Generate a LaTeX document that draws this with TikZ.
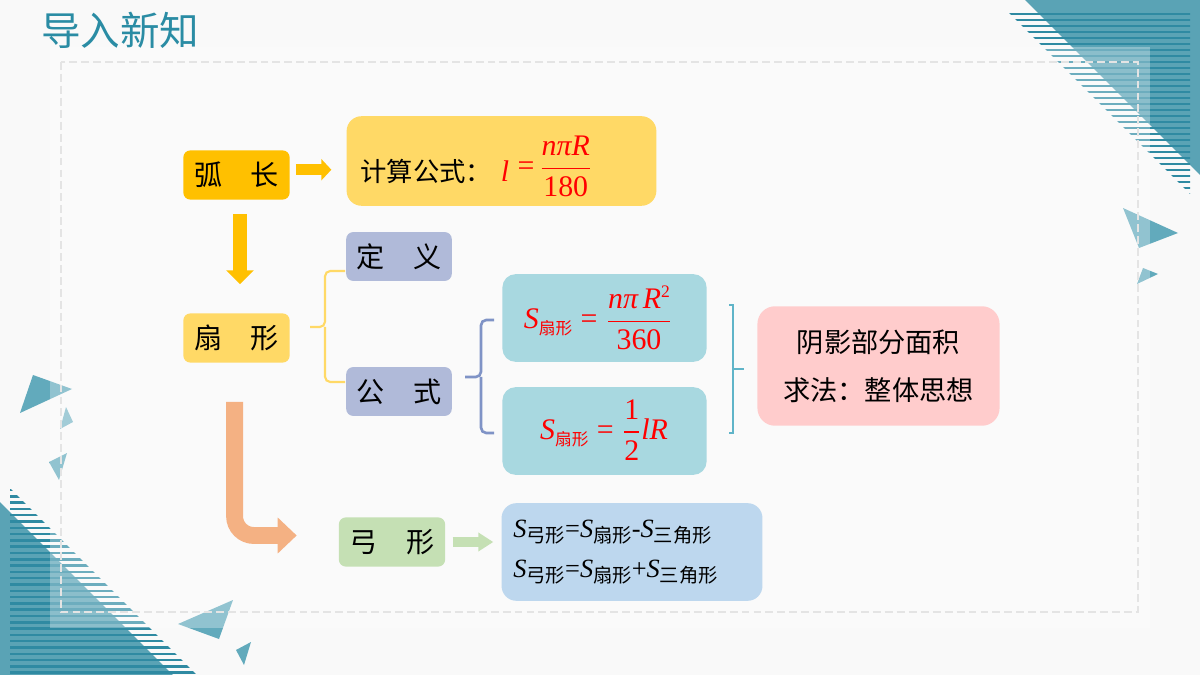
\documentclass[tikz,border=0pt]{standalone}
\usepackage{amsmath}
\usepackage{fontspec}
\setmainfont{Noto Sans CJK SC}
\newfontfamily\tms{Liberation Serif}
\usetikzlibrary{arrows.meta}
\definecolor{bgc}{HTML}{F9F9F9}
\definecolor{teala}{HTML}{5AA3B5}
\definecolor{tealb}{HTML}{2F8AA2}
\definecolor{tealc}{HTML}{62AABC}
\definecolor{titlec}{HTML}{2A8CA4}
\definecolor{gold}{HTML}{FFC000}
\definecolor{lgold}{HTML}{FFD966}
\definecolor{lav}{HTML}{B0BAD9}
\definecolor{lteal}{HTML}{A8D8E0}
\definecolor{pinka}{HTML}{FFCCCC}
\definecolor{lgreen}{HTML}{C5E0B4}
\definecolor{lblue}{HTML}{BDD7EE}
\definecolor{orng}{HTML}{F4B183}
\definecolor{bluebr}{HTML}{7F93C6}
\definecolor{tealbr}{HTML}{5FB4C8}
\definecolor{dashc}{HTML}{E4E4E4}
\definecolor{redf}{HTML}{FF0000}
\newcommand\tmi[1]{\mbox{\tms\itshape #1}}
\newcommand\tmr[1]{\mbox{\tms #1}}
\newcommand\subcjk[1]{\raisebox{-3.5pt}{\fontsize{9.5}{10}\selectfont #1}}
\newcommand\subgx[1]{\raisebox{-2.8pt}{\fontsize{11}{12}\selectfont #1}}
\begin{document}
\begin{tikzpicture}[x=0.02cm,y=-0.02cm,
  box/.style={inner sep=0pt, text=black},
  smallbox/.style={box, rounded corners=4pt, minimum width=60.5pt, minimum height=28pt, font=\fontsize{16}{19}\selectfont},
  fatarrow/.style={line width=#1},
  brc/.style={line width=1.2pt, rounded corners=3pt}
]
\useasboundingbox (0,0) rectangle (1200,675);
\fill[bgc] (0,0) rectangle (1200,675);
% top-right corner decoration
\fill[teala] (1025,0) -- (1200,0) -- (1200,175) -- cycle;
\begin{scope}
  \clip (1008,12) -- (1190,12) -- (1190,194) -- cycle;
  \foreach \i in {0,...,31} \draw[tealb, line width=1.4pt] (1000,14+6*\i) -- (1200,14+6*\i);
\end{scope}
% bottom-left corner decoration
\fill[teala] (0,502) -- (0,675) -- (173,675) -- cycle;
\begin{scope}
  \clip (10,488) -- (10,675) -- (197,675) -- cycle;
  \foreach \i in {0,...,31} \draw[tealb, line width=1.4pt] (0,490+6.3*\i) -- (210,490+6.3*\i);
\end{scope}
% small triangles
\fill[tealc] (1123,208) -- (1178,233) -- (1139,248) -- cycle;
\fill[tealc] (1143,268) -- (1158,274) -- (1137,284) -- cycle;
\fill[tealc] (33,375) -- (72,389) -- (20,413) -- cycle;
\fill[tealc!85] (66,407) -- (73,422) -- (60,429) -- cycle;
\fill[tealc] (49,462) -- (67,453) -- (59,480) -- cycle;
\fill[tealc] (233,600) -- (178,624) -- (219,639) -- cycle;
\fill[tealc] (251,642) -- (236,650) -- (244,665) -- cycle;
% translucent panel and dashed frame
\fill[white, opacity=0.3] (50,47) rectangle (1150,628);
\draw[dashc, line width=1.1pt, dash pattern=on 4.5pt off 2.3pt] (61,62) rectangle (1138,612);
% title
\node[anchor=west, inner sep=0pt, text=titlec, font=\fontsize{22.5}{26}\selectfont] (title) at (41,30) {导入新知};

% boxes
\node[smallbox, fill=gold] (hu) at (236.5,175) {弧　长};
\node[box, fill=lgold, rounded corners=8.5pt, minimum width=176.3pt, minimum height=51pt] (js) at (501.5,161) {};
\node[anchor=base west, inner sep=0pt, font=\fontsize{15}{18}\selectfont] (jst) at (360,182)
  {计算公式：\hspace{5pt}{\color{redf}\fontsize{17}{20}\selectfont $\tmi{l}\;\raisebox{3.5pt}{$\tmr{=}\,\genfrac{}{}{0.8pt}{0}{\tmi{nπR}}{\tmr{180}}$}$}};
\node[smallbox, fill=lgold] (shan) at (236.5,338) {扇　形};
\node[smallbox, fill=lav, minimum width=60.1pt, minimum height=27.8pt] (dy) at (399,256.5) {定　义};
\node[smallbox, fill=lav, minimum width=60.1pt, minimum height=27.8pt] (gs) at (399,391.5) {公　式};
\node[box, fill=lteal, rounded corners=7.5pt, minimum width=116.2pt, minimum height=49.9pt] (s1) at (604.5,318) {};
\node[box, fill=lteal, rounded corners=7.5pt, minimum width=116.2pt, minimum height=49.9pt] (s2) at (604.5,431) {};
\node[inner sep=0pt, text=redf, font=\fontsize{17}{20}\selectfont] (s1t) at (598,318)
  {$\tmi{S}\subcjk{扇形}\mathrel{\tmr{=}}\genfrac{}{}{0.8pt}{0}{\tmi{nπ\,R}\raisebox{6pt}{\mbox{\tms\fontsize{10}{11}\selectfont 2}}}{\tmr{360}}$};
\node[inner sep=0pt, text=redf, font=\fontsize{17}{20}\selectfont] (s2t) at (604,430)
  {$\tmi{S}\subcjk{扇形}\mathrel{\tmr{=}}\genfrac{}{}{0.8pt}{0}{\tmr{1}}{\tmr{2}}\tmi{lR}$};
\node[box, fill=pinka, rounded corners=10pt, minimum width=137.8pt, minimum height=68pt, align=center, font=\fontsize{15.5}{27}\selectfont] (yin) at (878.5,366) {阴影部分面积\\求法：整体思想};
\node[smallbox, fill=lgreen] (gong) at (392,542) {弓　形};
\node[box, fill=lblue, rounded corners=8.5pt, minimum width=148.5pt, minimum height=55.6pt] (gf) at (632,552) {};
\node[anchor=west, inner sep=0pt, align=left, font=\fontsize{15}{22.7}\selectfont] (gft) at (513,552)
  {\tmi{S}\subgx{弓形}\tmr{=}\tmi{S}\subgx{扇形}\tmr{-}\tmi{S}\subgx{三角形}\\
   \tmi{S}\subgx{弓形}\tmr{=}\tmi{S}\subgx{扇形}\tmr{+}\tmi{S}\subgx{三角形}};

% arrows
\draw[gold, fatarrow=6.2pt, -{Triangle[length=5.7pt,width=11.9pt]}, shorten <=3.4pt, shorten >=8.5pt]
  ([yshift=3pt]hu.east) -- ([yshift=3pt]hu.east -| js.west);
\draw[gold, fatarrow=7.9pt, -{Triangle[length=7.9pt,width=15.3pt]}, shorten <=7.9pt, shorten >=16.4pt]
  ([xshift=2pt]hu.south) -- ([xshift=2pt]hu.south |- shan.north);
\draw[orng, fatarrow=9.6pt, rounded corners=11pt, -{Triangle[length=10.8pt,width=19.8pt]}, shorten <=22.1pt, shorten >=23.8pt]
  ([xshift=-1.1pt]shan.south) |- ([yshift=3.7pt]gong.west);
\draw[lgreen, fatarrow=5.7pt, -{Triangle[length=8.5pt,width=10.2pt]}, shorten <=4pt, shorten >=4.5pt]
  (gong.east) -- (gong.east -| gf.west);

% braces
\draw[lgold, brc] (345,271) -| (325,327) -- (310,327);
\draw[lgold, brc] (345,382) -| (325,327);
\draw[bluebr, brc, line width=1.5pt] (494,320) -| (481,377) -- (465,377);
\draw[bluebr, brc, line width=1.5pt] (494,433) -| (481,377);
\draw[tealbr, line width=1.2pt] (729,305) -- (733,305) -- (733,433) -- (729,433);
\draw[tealbr, line width=1.2pt] (733,369) -- (744,369);
\end{tikzpicture}
\end{document}
